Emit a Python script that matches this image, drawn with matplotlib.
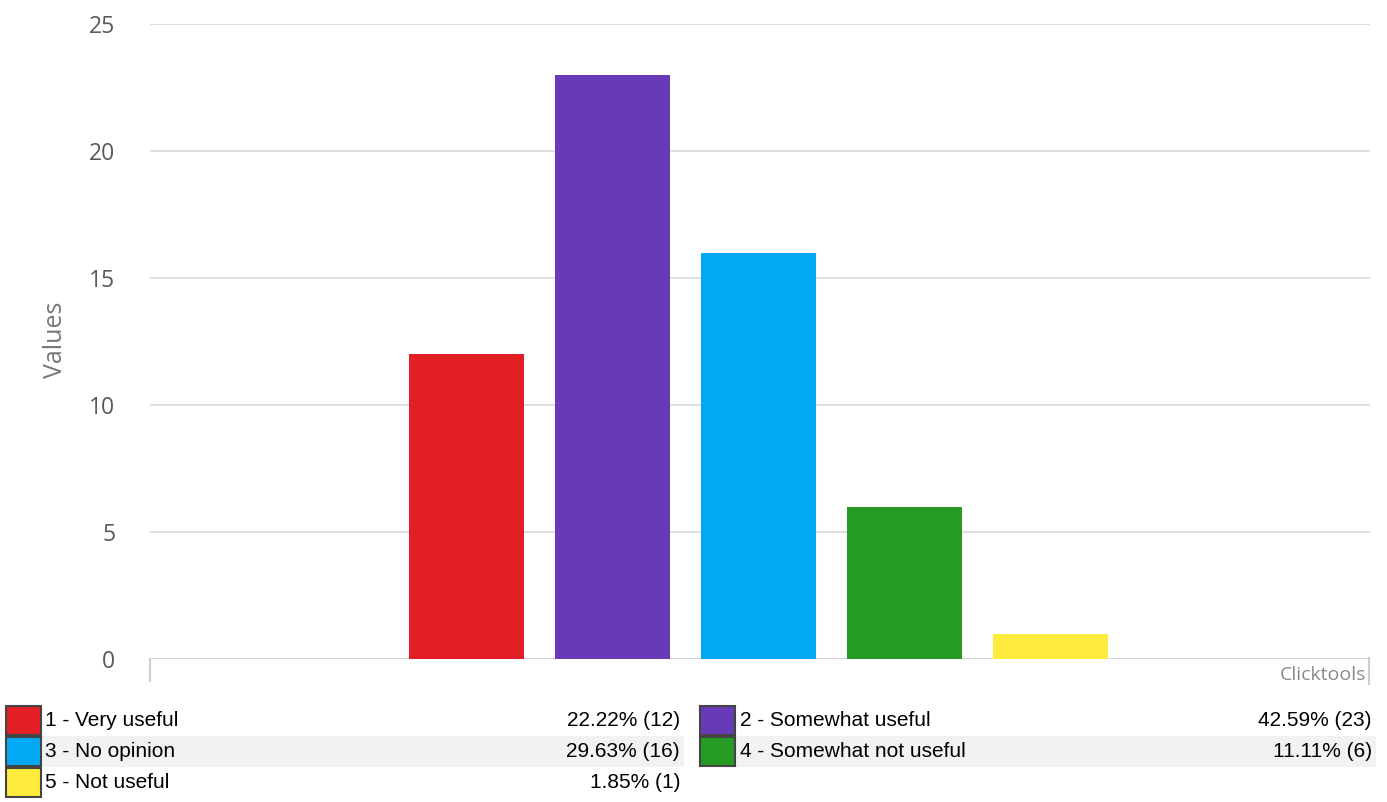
import matplotlib.pyplot as plt
from matplotlib.patches import Rectangle

# data
labels = ["1 - Very useful", "2 - Somewhat useful", "3 - No opinion",
          "4 - Somewhat not useful", "5 - Not useful"]
values = [12, 23, 16, 6, 1]
percents = [22.22, 42.59, 29.63, 11.11, 1.85]
colors = ["#E41E26", "#673AB7", "#03A9F4", "#259B24", "#FFEB3B"]
yticks = [0, 5, 10, 15, 20, 25]

W, H = 1387, 802
fig = plt.figure(figsize=(W / 100, H / 100), dpi=100)

# plot area in pixels: x 150..1370, y 24..659
ax = fig.add_axes([150 / W, 1 - 659 / H, 1220 / W, 635 / H])
x = list(range(len(values)))
ax.bar(x, values, width=0.79, color=colors, zorder=3)
ax.set_xlim(-2.17, 6.19)
ax.set_ylim(0, 25)
ax.set_yticks(yticks)
ax.set_xticks([])
for t in yticks:
    ax.axhline(t, color="#d9d9d9" if t else "#cccccc", lw=1.2, zorder=1)
for s in ax.spines.values():
    s.set_visible(False)
ax.tick_params(axis="y", length=0, pad=25, labelsize=16.5, labelcolor="#595959")
for lab in ax.get_yticklabels():
    lab.set_fontfamily("Open Sans")


def fx(px):
    return px / W


def fy(py):
    return 1 - py / H


fig.text(fx(55), fy(340), "Values", rotation=90, ha="center", va="center",
         fontsize=18, color="#777777", fontfamily="Open Sans")

# small axis stubs and watermark
fig.add_artist(plt.Line2D([fx(150), fx(150)], [fy(659), fy(681)], color="#c5d0de", lw=1.5))
fig.add_artist(plt.Line2D([fx(1369), fx(1369)], [fy(658), fy(684)], color="#c5d0de", lw=1.5))
fig.text(fx(1366), fy(675), "Clicktools", ha="right", va="center", fontsize=14,
         color="#888888", fontfamily="Open Sans")

# legend table
row_top = [705, 736, 767]
rh = 31
cols = [(6, 41, 45, 680), (700, 735, 740, 1372)]
for i, (lab, v, p, c) in enumerate(zip(labels, values, percents, colors)):
    r, k = divmod(i, 2)
    sx0, sx1, tx, px = cols[k]
    y0 = row_top[r]
    if r == 1:
        fig.add_artist(Rectangle((fx(sx1), fy(y0 + rh)), fx(px + 4) - fx(sx1), rh / H,
                                 facecolor="#f2f2f2", edgecolor="none", zorder=0))
    fig.add_artist(Rectangle((fx(sx0), fy(y0 + rh - 1)), fx(sx1) - fx(sx0), (rh - 2) / H,
                             facecolor=c, edgecolor="#444444", lw=1.5))
    fig.text(fx(tx), fy(y0 + rh / 2), lab, ha="left", va="center",
             fontsize=15, fontfamily="Liberation Sans", color="#000000")
    fig.text(fx(px), fy(y0 + rh / 2), "%.2f%% (%d)" % (p, v),
             ha="right", va="center", fontsize=15, fontfamily="Liberation Sans", color="#000000")

fig.savefig("out.png", dpi=100)
